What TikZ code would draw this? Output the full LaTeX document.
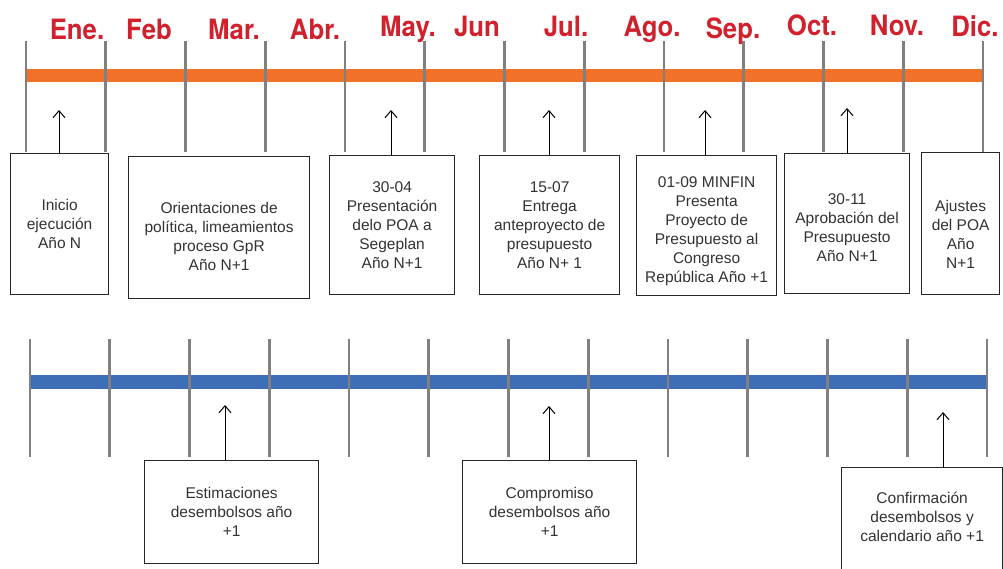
\documentclass[tikz,border=0pt]{standalone}
\usepackage{fontspec}
\setmainfont{Liberation Sans}
\newfontfamily\monthfont[FakeStretch=0.92]{TeX Gyre Heros}
\usetikzlibrary{arrows.meta,positioning}

\definecolor{mesred}{RGB}{208,33,45}
\definecolor{barorange}{RGB}{241,113,41}
\definecolor{barblue}{RGB}{62,110,181}
\definecolor{tickgray}{RGB}{128,128,128}
\definecolor{boxtext}{RGB}{50,50,50}

\tikzset{
  month/.style={anchor=base, text=mesred, inner sep=0pt,
    font=\monthfont\bfseries\fontsize{28}{28}\selectfont},
  hito/.style={draw=black!85, line width=1.2pt, align=center, inner sep=2pt,
    anchor=north west, text=boxtext, font=\fontsize{15.5}{19}\selectfont},
  mesline/.style={draw=tickgray, line width=2.6pt},
  flecha/.style={draw=black, line width=1pt, -{Straight Barb[length=7pt,width=12pt]}}
}

\begin{document}
\begin{tikzpicture}[x=1pt,y=-1pt]
\useasboundingbox (0,0) rectangle (1003,569);
\clip (0,0) rectangle (1003,569);

% meses
\node[month] (ene) at (77,40)  {Ene.};
\node[month] (feb) at (149,40) {Feb};
\node[month] (mar) at (234,40) {Mar.};
\node[month] (abr) at (315,40) {Abr.};
\node[month] (may) at (408,37) {May.};
\node[month] (jun) at (477,37) {Jun};
\node[month] (jul) at (566,37) {Jul.};
\node[month] (ago) at (652,37) {Ago.};
\node[month] (sep) at (733,39) {Sep.};
\node[month] (oct) at (812,36) {Oct.};
\node[month] (nov) at (897,36) {Nov.};
\node[month] (dic) at (975,37) {Dic.};

% linea superior
\coordinate (o0) at (26,75.5);
\coordinate (o1) at (983,75.5);
\draw[barorange, line width=13pt] (o0) -- (o1);
\foreach \i in {0,...,12}
  \draw[mesline] ({26+79.75*\i},41) -- ({26+79.75*\i},152);

\node[hito, minimum width=98,  minimum height=141] (inicio)  at (10,153)  {Inicio\\ejecución\\Año N};
\node[hito, minimum width=181, minimum height=142, text height=86pt] (orient) at (128,156) {Orientaciones de\\política, limeamientos\\proceso GpR\\Año N+1};
\node[hito, minimum width=125, minimum height=139] (poa)     at (329,155) {30-04\\Presentación\\delo POA a\\Segeplan\\Año N+1};
\node[hito, minimum width=140, minimum height=139] (antep)   at (479,155) {15-07\\Entrega\\anteproyecto de\\presupuesto\\Año N+ 1};
\node[hito, minimum width=140, minimum height=140, text height=118pt] (minfin) at (636,155) {01-09 MINFIN\\Presenta\\Proyecto de\\Presupuesto al\\Congreso\\República Año +1};
\node[hito, minimum width=125, minimum height=140, text height=76pt] (aprob) at (784,153) {30-11\\Aprobación del\\Presupuesto\\Año N+1};
\node[hito, minimum width=78,  minimum height=142, text height=90pt] (ajustes) at (921,152) {Ajustes\\del POA\\Año\\N+1};

\coordinate (tinicio) at (59,110);
\coordinate (tpoa)    at (391,110);
\coordinate (tantep)  at (549,110);
\coordinate (tminfin) at (705,110);
\coordinate (taprob)  at (847,108);
\draw[flecha] (inicio.north -| tinicio) -- (tinicio);
\draw[flecha] (poa.north -| tpoa) -- (tpoa);
\draw[flecha] (antep.north -| tantep) -- (tantep);
\draw[flecha] (minfin.north -| tminfin) -- (tminfin);
\draw[flecha] (aprob.north -| taprob) -- (taprob);

% linea inferior
\coordinate (b0) at (30,382);
\coordinate (b1) at (987,382);
\draw[barblue, line width=14pt] (b0) -- (b1);
\foreach \i in {0,...,12}
  \draw[mesline] ({30+79.75*\i},339) -- ({30+79.75*\i},457);

\node[hito, minimum width=174, minimum height=103] (estim)   at (144,460) {Estimaciones\\desembolsos año\\+1};
\node[hito, minimum width=174, minimum height=103] (compr)   at (462,460) {Compromiso\\desembolsos año\\+1};
\node[hito, minimum width=161, minimum height=140, text depth=42pt] (confirm) at (841,467) {Confirmación\\desembolsos y\\calendario año +1};

\coordinate (testim)   at (225,405);
\coordinate (tcompr)   at (549,406);
\coordinate (tconfirm) at (943,412);
\draw[flecha] (estim.north -| testim) -- (testim);
\draw[flecha] (compr.north -| tcompr) -- (tcompr);
\draw[flecha] (confirm.north -| tconfirm) -- (tconfirm);
\end{tikzpicture}
\end{document}
